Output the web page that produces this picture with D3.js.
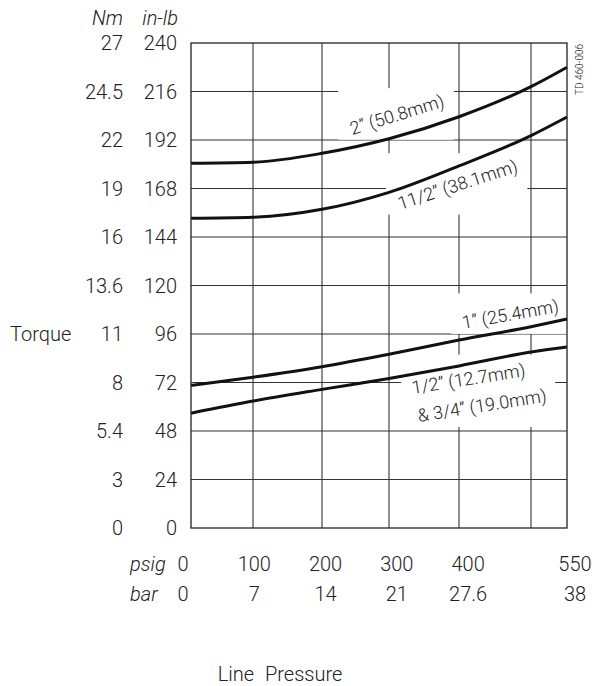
<!DOCTYPE html>
<html>
<head>
<meta charset="utf-8">
<script src="https://cdn.jsdelivr.net/npm/d3@7"></script>
<style>
  body { margin: 0; background: #fff; }
  svg { display: block; font-family: Roboto, "Liberation Sans", Arial, sans-serif; font-weight: 300; }
</style>
</head>
<body>
<div id="chart"></div>
<script>
// values (torque in in-lb, pressure in psig)
const pressurePsig = [0, 100, 200, 300, 400, 500, 550];
const torque2in = [180.5, 181.0, 185.4, 192.6, 203.5, 218.4, 228.0];
const torque112in = [153.3, 153.8, 157.7, 166.1, 179.2, 194.2, 203.4];
const torque1in = [70.5, 74.6, 79.8, 86.0, 93.0, 99.6, 103.4];
const torqueHalfIn = [56.8, 62.8, 68.6, 74.0, 80.2, 87.1, 89.6];

// tick labels
const inlbTicks = [0, 24, 48, 72, 96, 120, 144, 168, 192, 216, 240];
const nmTicks = ["0", "3", "5.4", "8", "11", "13.6", "16", "19", "22", "24.5", "27"];
const psigTicks = [0, 100, 200, 300, 400, 550];
const barTicks = ["0", "7", "14", "21", "27.6", "38"];
const gridPsig = [100, 200, 300, 400, 500];

// curve labels, anchored in data units
const curveLabels = [
    {lines: ["2\u201D (50.8mm)"], psig: 245, inlb: 194.5, angle: -17},
    {lines: ["11/2\u201D (38.1mm)"], psig: 316, inlb: 157.4, angle: -18},
    {lines: ["1\u201D (25.4mm)"], psig: 406, inlb: 98.5, angle: -10},
    {lines: ["1/2\u201D (12.7mm)", "& 3/4\u201D (19.0mm)"], psig: 334, inlb: 66.3, angle: -9}
];

const series = [torque2in, torque112in, torque1in, torqueHalfIn];

const width = 594
const height = 686
const plot = {left: 191, right: 567, top: 43, bottom: 528}
const ink = "#222"
const fontSize = 20

let svg = d3.select("#chart")
    .append("svg")
    .attr("width", width)
    .attr("height", height);

// x scale follows the hand drawn grid, y is linear
let x = d3.scaleLinear()
    .domain(pressurePsig)
    .range([191, 253, 322, 389, 459, 531, 567]);
let y = d3.scaleLinear().domain([0, 240]).range([plot.bottom, plot.top]);

// the pressure labels sit on their own even spacing below the grid
let xLabel = d3.scaleLinear().domain([0, 550]).range([183, 575]);

let gridLayer = svg.append("g");
let maskLayer = svg.append("g");
let curveLayer = svg.append("g");
let labelLayer = svg.append("g");

// grid
gridLayer.selectAll(".hgrid")
    .data(inlbTicks.slice(1, -1))
    .enter().append("line")
    .attr("x1", plot.left).attr("x2", plot.right)
    .attr("y1", d => y(d)).attr("y2", d => y(d))
    .attr("stroke", "#333").attr("stroke-width", 1.1);

gridLayer.selectAll(".vgrid")
    .data(gridPsig)
    .enter().append("line")
    .attr("x1", d => x(d)).attr("x2", d => x(d))
    .attr("y1", plot.top).attr("y2", plot.bottom)
    .attr("stroke", "#333").attr("stroke-width", 1.1);

// curves
let line = d3.line()
    .x((d, i) => x(pressurePsig[i]))
    .y(d => y(d))
    .curve(d3.curveMonotoneX);

curveLayer.selectAll("path")
    .data(series)
    .enter().append("path")
    .attr("d", line)
    .attr("fill", "none")
    .attr("stroke", "#111")
    .attr("stroke-width", 3);

// curve labels with white boxes that cut the grid
curveLabels.forEach(l => {
    let g = labelLayer.append("g")
        .attr("transform", `translate(${x(l.psig)},${y(l.inlb)}) rotate(${l.angle})`);
    l.lines.forEach((t, i) => {
        g.append("text")
            .attr("x", i * 1.5)
            .attr("y", i * 28.5)
            .attr("font-size", 18)
            .attr("fill", ink)
            .text(t);
    });
    let b = g.node().getBoundingClientRect();
    maskLayer.append("rect")
        .attr("x", b.left - 9).attr("y", b.top - 2)
        .attr("width", b.width + 16).attr("height", b.height + 2)
        .attr("fill", "#fff");
});

// frame
svg.append("rect")
    .attr("x", plot.left).attr("y", plot.top)
    .attr("width", plot.right - plot.left).attr("height", plot.bottom - plot.top)
    .attr("fill", "none").attr("stroke", "#222").attr("stroke-width", 1.3);

// y tick labels: Nm and in-lb
svg.selectAll(".inlb")
    .data(inlbTicks)
    .enter().append("text")
    .attr("x", 177).attr("y", d => y(d)).attr("dy", "0.36em")
    .attr("text-anchor", "end").attr("font-size", fontSize).attr("fill", ink)
    .text(d => d);

svg.selectAll(".nm")
    .data(nmTicks)
    .enter().append("text")
    .attr("x", 123).attr("y", (d, i) => y(inlbTicks[i])).attr("dy", "0.36em")
    .attr("text-anchor", "end").attr("font-size", fontSize).attr("fill", ink)
    .text(d => d);

svg.append("text").attr("x", 123).attr("y", 25).attr("text-anchor", "end")
    .attr("font-size", fontSize).attr("font-style", "italic").attr("fill", ink).text("Nm");
svg.append("text").attr("x", 178).attr("y", 25).attr("text-anchor", "end")
    .attr("font-size", fontSize).attr("font-style", "italic").attr("fill", ink).text("in-lb");

svg.append("text").attr("x", 10).attr("y", y(96)).attr("dy", "0.36em")
    .attr("font-size", fontSize).attr("fill", ink).text("Torque");

// x tick labels: psig and bar
svg.selectAll(".psig")
    .data(psigTicks)
    .enter().append("text")
    .attr("x", d => xLabel(d)).attr("y", 571)
    .attr("text-anchor", "middle").attr("font-size", fontSize).attr("fill", ink)
    .text(d => d);

svg.selectAll(".bar")
    .data(barTicks)
    .enter().append("text")
    .attr("x", (d, i) => xLabel(psigTicks[i])).attr("y", 601)
    .attr("text-anchor", "middle").attr("font-size", fontSize).attr("fill", ink)
    .text(d => d);

svg.append("text").attr("x", 130).attr("y", 571)
    .attr("font-size", fontSize).attr("font-style", "italic").attr("fill", ink).text("psig");
svg.append("text").attr("x", 130).attr("y", 601)
    .attr("font-size", fontSize).attr("font-style", "italic").attr("fill", ink).text("bar");

svg.append("text").attr("x", 280).attr("y", 681).attr("text-anchor", "middle")
    .attr("font-size", fontSize).attr("word-spacing", 6).attr("fill", ink).text("Line Pressure");

// drawing number
svg.append("text")
    .attr("transform", "translate(583,95) rotate(-90)")
    .attr("font-size", 10).attr("fill", ink)
    .text("TD 460-006");
</script>
</body>
</html>
